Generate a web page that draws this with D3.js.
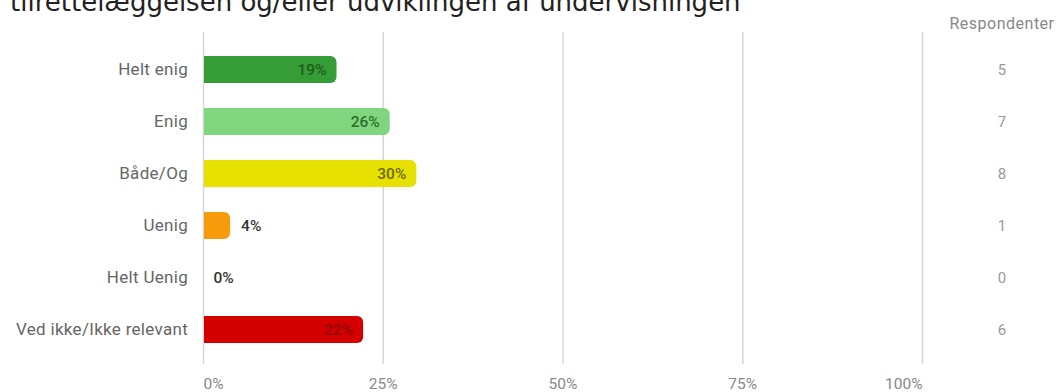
<!DOCTYPE html>
<html><head><meta charset="utf-8">
<script src="https://cdn.jsdelivr.net/npm/d3@7"></script>
<style>html,body{margin:0;padding:0;background:#fff;overflow:hidden}</style>
</head><body>
<svg id="c" width="1059" height="392"></svg>
<script>
const titleText = "tilrettelæggelsen og/eller udviklingen af undervisningen";
const categories = ["Helt enig","Enig","Både/Og","Uenig","Helt Uenig","Ved ikke/Ikke relevant"];
const respondents = [5,7,8,1,0,6];
const percents = [18.5,25.9,29.6,3.7,0,22.2];
const percentLabels = ["19%","26%","30%","4%","0%","22%"];
const barColors = ["#369c36","#7fd67f","#e6e100","#f59b0c","#cccccc","#d40000"];
const labelColors = ["#1d5e1d","#2b6e2b","#6e6a00","#333333","#333333","#8c0000"];
const ticks = [0,25,50,75,100];
const tickLabels = ["0%","25%","50%","75%","100%"];
const respHeader = "Respondenter";

const svg = d3.select("#c");
const x = d3.scaleLinear().domain([0,100]).range([203.5,922.5]);
const y = d3.scaleBand().domain(categories).range([43.5,355.5]).paddingInner(0.48).paddingOuter(0.24);

svg.append("text").attr("x",10).attr("y",11).attr("font-family","DejaVu Sans").attr("font-size",26).attr("fill","#222").text(titleText);

// gridlines
svg.append("g").selectAll("line").data(ticks).join("line")
  .attr("x1",d=>x(d)).attr("x2",d=>x(d)).attr("y1",32).attr("y2",364)
  .attr("stroke","#d6d6d6").attr("stroke-width",1.5);

// x axis labels
svg.append("g").selectAll("text").data(ticks).join("text")
  .attr("x",d=>x(d))
  .attr("text-anchor",(d,i)=> i===0 ? "start" : i===ticks.length-1 ? "end" : "middle")
  .attr("y",389).attr("font-family","Roboto").attr("font-size",15.5).attr("fill","#888")
  .text((d,i)=>tickLabels[i]);

// category labels
svg.append("g").selectAll("text").data(categories).join("text")
  .attr("x",188).attr("y",d=>y(d)+y.bandwidth()/2).attr("dy","0.35em")
  .attr("text-anchor","end").attr("font-family","Roboto").attr("font-size",17).attr("letter-spacing",0.3).attr("fill","#666")
  .text(d=>d);

function barPath(x0,x1,y0,h,r){
  const w=x1-x0; r=Math.min(r,w,h/2);
  if(w<=0) return "";
  return `M${x0},${y0}H${x1-r}A${r},${r} 0 0 1 ${x1},${y0+r}V${y0+h-r}A${r},${r} 0 0 1 ${x1-r},${y0+h}H${x0}Z`;
}
const bars = svg.append("g");
bars.selectAll("path").data(categories).join("path")
  .attr("d",(d,i)=>barPath(x(0)+0.5,x(percents[i]),y(d),y.bandwidth(),6))
  .attr("fill",(d,i)=>barColors[i]);

bars.selectAll("text").data(categories).join("text")
  .attr("x",(d,i)=> percents[i]>10 ? x(percents[i])-10 : x(percents[i])+11 - (percents[i]===0?1:0))
  .attr("y",d=>y(d)+y.bandwidth()/2).attr("dy","0.35em")
  .attr("text-anchor",(d,i)=> percents[i]>10 ? "end":"start")
  .attr("font-family","Roboto").attr("font-weight",500).attr("font-size",15.5)
  .attr("fill",(d,i)=>labelColors[i]).text((d,i)=>percentLabels[i]);

// respondents column
svg.append("text").attr("x",1002).attr("y",29).attr("text-anchor","middle")
  .attr("font-family","Roboto").attr("font-size",16).attr("letter-spacing",0.5).attr("fill","#888").text(respHeader);
svg.append("g").selectAll("text").data(categories).join("text")
  .attr("x",1002).attr("y",d=>y(d)+y.bandwidth()/2).attr("dy","0.35em").attr("text-anchor","middle")
  .attr("font-family","Roboto").attr("font-size",15).attr("fill","#999").text((d,i)=>respondents[i]);
</script>
</body></html>
